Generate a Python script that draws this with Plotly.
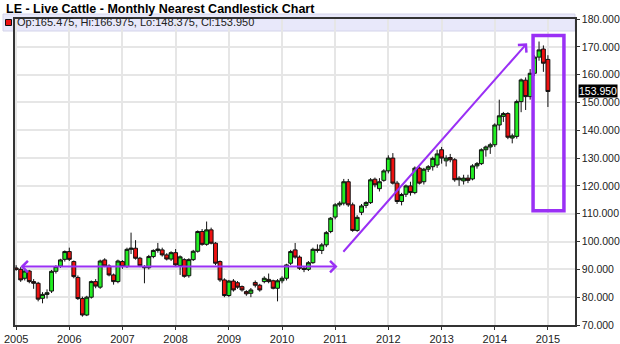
import pandas as pd
import plotly.graph_objects as go

# Monthly nearest-contract OHLC, Jan 2005 .. Jan 2015
months = pd.date_range("2005-01-01", periods=121, freq="MS")

opens = [
    90.5, 90.0, 86.8, 89.4, 85.6, 85.0, 79.6, 81.0, 82.2, 89.3, 91.2, 93.6,
    96.4, 92.8, 87.1, 79.5, 73.6, 80.0, 85.6, 83.6, 93.4, 91.2, 88.0, 85.6,
    92.8, 91.0, 97.2, 97.6, 94.0, 91.0, 90.6, 94.6, 96.8, 97.0, 95.2, 93.7,
    96.0, 91.4, 93.5, 87.7, 93.5, 96.5, 103.6, 99.0, 104.2, 99.4, 92.8, 86.2,
    80.6, 85.8, 85.2, 83.8, 82.0, 81.4, 85.3, 84.3, 85.6, 86.4, 85.9, 83.2,
    85.9, 86.8, 92.2, 97.0, 94.4, 90.4, 90.0, 92.4, 97.2, 96.8, 98.8, 103.6,
    108.8, 113.2, 113.8, 121.5, 113.2, 104.0, 110.5, 113.0, 114.0, 122.4, 119.0, 122.0,
    125.4, 130.0, 121.0, 114.4, 117.0, 120.0, 117.6, 126.4, 121.5, 126.0, 126.9, 127.5,
    133.0, 129.0, 130.2, 129.4, 122.2, 121.8, 122.8, 122.5, 127.2, 128.0, 133.0, 134.0,
    134.8, 141.9, 145.0, 146.0, 137.2, 137.8, 150.3, 158.0, 152.1, 160.5, 166.3, 169.2,
    165.475,
]
highs = [
    91.5, 90.8, 90.2, 89.8, 86.5, 85.5, 81.8, 82.8, 89.8, 91.5, 93.8, 96.8,
    97.8, 93.2, 87.8, 80.2, 80.5, 86.0, 86.5, 93.5, 94.0, 91.8, 88.5, 93.5,
    93.3, 97.8, 103.2, 100.5, 94.5, 91.5, 95.2, 97.2, 99.5, 97.8, 95.8, 96.5,
    97.3, 95.0, 94.0, 94.0, 97.0, 104.0, 104.5, 107.2, 105.0, 99.8, 93.2, 86.8,
    86.2, 86.5, 85.8, 84.2, 82.5, 83.3, 86.0, 84.8, 87.5, 88.5, 86.3, 86.5,
    87.5, 92.0, 97.0, 99.5, 95.0, 91.2, 93.0, 97.8, 99.0, 99.5, 103.8, 108.8,
    113.8, 114.5, 122.5, 122.5, 114.0, 109.5, 113.5, 114.5, 122.8, 123.0, 122.8, 126.0,
    131.0, 131.8, 121.8, 117.5, 120.5, 121.5, 127.0, 127.0, 126.5, 127.5, 130.5, 133.0,
    134.0, 131.0, 131.5, 130.0, 123.5, 124.0, 124.0, 127.8, 128.6, 133.5, 134.5, 135.5,
    142.5, 151.0, 146.6, 146.5, 138.8, 151.0, 158.6, 159.0, 162.0, 167.0, 171.9, 170.5,
    166.975,
]
lows = [
    89.5, 85.5, 86.0, 85.0, 83.0, 78.5, 77.8, 79.5, 81.5, 88.5, 90.5, 92.8,
    93.0, 86.8, 79.0, 73.0, 73.2, 79.5, 83.2, 83.0, 90.8, 87.5, 84.5, 85.0,
    90.2, 90.5, 95.5, 93.5, 90.8, 85.0, 90.0, 94.0, 96.0, 94.6, 93.2, 93.0,
    91.0, 88.0, 87.0, 87.0, 93.0, 96.0, 98.5, 98.5, 99.0, 91.5, 85.5, 80.0,
    80.0, 82.0, 83.0, 82.0, 80.5, 80.0, 83.5, 82.0, 85.0, 85.0, 82.8, 78.5,
    85.0, 86.0, 91.5, 93.8, 89.8, 89.0, 89.4, 92.0, 96.0, 95.5, 98.0, 103.0,
    108.0, 112.5, 113.0, 112.5, 103.5, 103.5, 109.5, 112.0, 113.5, 119.5, 118.0, 121.5,
    124.5, 120.5, 113.5, 113.0, 116.0, 116.5, 117.0, 120.5, 120.5, 125.0, 125.5, 126.5,
    128.0, 127.0, 128.5, 121.5, 120.0, 120.5, 121.0, 122.0, 126.2, 127.5, 130.5, 131.5,
    134.0, 140.0, 143.0, 136.8, 135.3, 137.0, 146.5, 147.3, 151.0, 159.5, 165.0, 161.0,
    148.375,
]
closes = [
    90.0, 86.2, 89.4, 85.6, 85.0, 79.3, 81.0, 81.6, 89.3, 91.0, 93.4, 96.4,
    93.6, 87.4, 79.5, 73.6, 80.0, 85.6, 84.0, 93.0, 91.2, 88.0, 85.6, 93.0,
    91.0, 97.2, 97.6, 94.0, 91.3, 90.6, 94.6, 96.8, 97.3, 95.2, 93.7, 96.0,
    91.6, 94.5, 87.5, 93.5, 96.5, 103.6, 99.0, 104.2, 99.4, 92.2, 86.2, 80.6,
    85.8, 82.6, 83.6, 82.6, 81.2, 82.6, 84.3, 82.6, 86.8, 85.6, 83.2, 85.9,
    86.8, 91.6, 96.4, 94.4, 90.4, 90.0, 92.4, 97.2, 96.8, 98.8, 103.2, 108.4,
    113.2, 113.8, 121.5, 113.2, 104.0, 108.7, 112.8, 114.0, 122.2, 120.4, 121.5, 125.4,
    130.0, 121.0, 114.4, 116.9, 120.0, 117.6, 126.4, 121.0, 126.0, 126.9, 129.9, 131.5,
    130.0, 130.0, 129.4, 122.2, 122.8, 122.8, 122.0, 127.2, 128.0, 133.0, 134.0, 134.8,
    141.9, 145.2, 146.0, 137.5, 138.0, 150.3, 158.1, 152.1, 160.5, 166.3, 168.9, 164.1,
    153.95,
]

year_labels = [str(y) for y in range(2005, 2016)]
price_ticks = list(range(70, 190, 10))

# plot-area geometry in pixels (used to place paper-referenced decorations)
W, H = 620, 344
L, R, T, B = 15, 45, 19, 19
PW, PH = W - L - R, H - T - B


def px_x(p):
    return (p - L) / PW


def px_y(p):
    return (H - B - p) / PH


PURPLE = "#9a30f5"

fig = go.Figure(
    go.Candlestick(
        x=months,
        open=opens,
        high=highs,
        low=lows,
        close=closes,
        increasing=dict(fillcolor="#22ee22", line=dict(color="#111111", width=1)),
        decreasing=dict(fillcolor="#ee1111", line=dict(color="#111111", width=1)),
        whiskerwidth=0,
        hoverinfo="skip",
        showlegend=False,
    )
)

axis_common = dict(
    automargin=False,
    showgrid=True,
    gridcolor="#e6e6e6",
    gridwidth=1.5,
    showline=True,
    linecolor="#333333",
    linewidth=1.5,
    mirror=True,
    ticks="outside",
    tickcolor="#333333",
    zeroline=False,
)

fig.update_xaxes(
    type="date",
    range=["2004-12-24", "2015-07-06"],
    tickvals=[f"{y}-01-01" for y in year_labels],
    ticktext=year_labels,
    ticklen=3,
    tickfont=dict(size=11, color="#222222"),
    rangeslider=dict(visible=False),
    **axis_common,
)
fig.update_yaxes(
    side="right",
    range=[70, 180],
    tickvals=price_ticks,
    ticktext=[f"{v:.3f}" for v in price_ticks],
    ticklen=3,
    tickfont=dict(size=10.5, color="#222222"),
    **axis_common,
)

legend_text = (
    f"Op:{opens[-1]:.3f}, Hi:{highs[-1]:.3f}, "
    f"Lo:{lows[-1]:.3f}, Cl:{closes[-1]:.3f}"
)

shapes = [
    # legend strip across the top of the chart
    dict(type="rect", xref="paper", yref="paper",
         x0=px_x(3), x1=px_x(575), y0=px_y(31), y1=px_y(14),
         fillcolor="#e8e8fa", line=dict(color="#d4d4ea", width=1), layer="below"),
    # red swatch for the last candle
    dict(type="rect", xref="paper", yref="paper",
         x0=px_x(5.5), x1=px_x(11.5), y0=px_y(25.5), y1=px_y(19.5),
         fillcolor="#ee1111", line=dict(color="#111111", width=1)),
    # box around the latest pullback
    dict(type="rect", xref="x", yref="y",
         x0="2014-09-21", x1="2015-04-21", y0=111.1, y1=174.1,
         line=dict(color=PURPLE, width=3.5), fillcolor="rgba(0,0,0,0)"),
]

annotations = [
    dict(text="<b>LE - Live Cattle - Monthly Nearest Candlestick Chart</b>",
         xref="paper", yref="paper", x=px_x(4), y=px_y(9),
         xanchor="left", yanchor="middle", showarrow=False,
         font=dict(size=12.5, color="#000000")),
    dict(text=legend_text, xref="paper", yref="paper", x=px_x(15), y=px_y(22.5),
         xanchor="left", yanchor="middle", showarrow=False,
         font=dict(size=11, color="#222222")),
    # last price tag on the price axis
    dict(text="153.950", xref="paper", yref="y", x=1, y=closes[-1],
         xanchor="left", yanchor="middle", xshift=3, showarrow=False,
         bgcolor="#000000", borderpad=0, font=dict(size=10.5, color="#ffffff")),
    # sideways range, 2005-2010
    dict(text="", xref="x", yref="y", axref="x", ayref="y",
         x="2011-01-17", y=91.0, ax="2005-01-20", ay=91.0,
         showarrow=True, arrowside="end+start",
         arrowhead=4, startarrowhead=4, arrowsize=1.1, startarrowsize=1.1,
         arrowwidth=2, arrowcolor=PURPLE),
    # uptrend, 2011-2014
    dict(text="", xref="x", yref="y", axref="x", ayref="y",
         x="2014-08-11", y=171.3, ax="2011-02-17", ay=95.8,
         showarrow=True, arrowhead=4, arrowsize=1.1,
         arrowwidth=2, arrowcolor=PURPLE),
]

fig.update_layout(
    width=W,
    height=H,
    margin=dict(l=L, r=R, t=T, b=B, pad=0, autoexpand=False),
    paper_bgcolor="white",
    plot_bgcolor="white",
    font=dict(family="Arial, Liberation Sans, sans-serif", size=11, color="#222222"),
    boxgap=0.05,
    boxgroupgap=0.0,
    shapes=shapes,
    annotations=annotations,
    showlegend=False,
)

fig.write_html("out.html")
